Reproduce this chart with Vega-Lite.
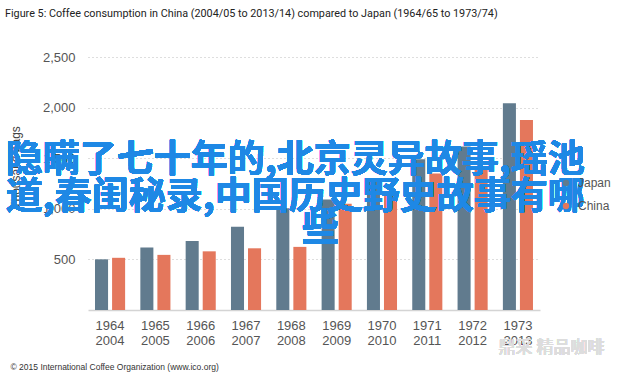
{
  "$schema": "https://vega.github.io/schema/vega-lite/v6.json",
  "width": 452,
  "height": 263,
  "autosize": {"type": "none"},
  "padding": {"left": 88, "top": 47, "right": 100, "bottom": 67},
  "background": "white",
  "config": {"view": {"stroke": null}, "font": "Liberation Sans"},
  "title": {
    "text": "Figure 5: Coffee consumption in China (2004/05 to 2013/14) compared to Japan (1964/65 to 1973/74)",
    "anchor": "start",
    "frame": "group",
    "dx": -83,
    "offset": 19,
    "baseline": "alphabetic",
    "font": "Roboto",
    "fontSize": 10.8,
    "fontWeight": "normal",
    "color": "#222222"
  },
  "data": {
    "values": [
      {"period": "1964 2004", "country": "Japan", "value": 501},
      {"period": "1964 2004", "country": "China", "value": 516},
      {"period": "1965 2005", "country": "Japan", "value": 618},
      {"period": "1965 2005", "country": "China", "value": 545},
      {"period": "1966 2006", "country": "Japan", "value": 681},
      {"period": "1966 2006", "country": "China", "value": 580},
      {"period": "1967 2007", "country": "Japan", "value": 824},
      {"period": "1967 2007", "country": "China", "value": 610},
      {"period": "1968 2008", "country": "Japan", "value": 1005},
      {"period": "1968 2008", "country": "China", "value": 624},
      {"period": "1969 2009", "country": "Japan", "value": 1093},
      {"period": "1969 2009", "country": "China", "value": 1050},
      {"period": "1970 2010", "country": "Japan", "value": 1300},
      {"period": "1970 2010", "country": "China", "value": 1150},
      {"period": "1971 2011", "country": "Japan", "value": 1490},
      {"period": "1971 2011", "country": "China", "value": 1350},
      {"period": "1972 2012", "country": "Japan", "value": 1616},
      {"period": "1972 2012", "country": "China", "value": 1400},
      {"period": "1973 2013", "country": "Japan", "value": 2044},
      {"period": "1973 2013", "country": "China", "value": 1879}
    ]
  },
  "layer": [
    {
      "mark": {"type": "bar"},
      "encoding": {
        "x": {
          "field": "period",
          "type": "nominal",
          "sort": null,
          "scale": {"paddingInner": 0.336, "paddingOuter": 0.155},
          "axis": {
            "labelAngle": 0,
            "labelExpr": "split(datum.label, ' ')",
            "labelFontSize": 13,
            "labelColor": "#555555",
            "labelLineHeight": 15,
            "labelPadding": 9,
            "ticks": false,
            "domain": true,
            "domainColor": "#d4d4d4",
            "domainWidth": 1.5,
            "title": "© 2015 International Coffee Organization (www.ico.org)",
            "titleAlign": "left",
            "titleAnchor": "start",
            "titleBaseline": "middle",
            "titleX": -78,
            "titleY": 56,
            "titleFontSize": 8.5,
            "titleFontWeight": "normal",
            "titleColor": "#333333"
          }
        },
        "xOffset": {
          "field": "country",
          "sort": ["Japan", "China"],
          "scale": {"paddingInner": 0.235, "paddingOuter": 0}
        },
        "y": {
          "field": "value",
          "type": "quantitative",
          "scale": {"domain": [0, 2500]},
          "axis": {
            "values": [500, 1000, 1500, 2000, 2500],
            "format": ",.0f",
            "grid": true,
            "gridDash": [1, 3],
            "gridColor": "#bdbdbd",
            "domain": false,
            "ticks": false,
            "labelPadding": 13,
            "labelFontSize": 13,
            "labelColor": "#555555",
            "title": "Thousand bags",
            "titleX": -73,
            "titleY": 120,
            "titleAlign": "center",
            "titleBaseline": "middle",
            "titleFontSize": 12,
            "titleFontWeight": "normal",
            "titleColor": "#444444"
          }
        },
        "color": {
          "field": "country",
          "type": "nominal",
          "scale": {"domain": ["Japan", "China"], "range": ["#617b8e", "#e4775c"]},
          "legend": {
            "title": null,
            "orient": "none",
            "legendX": 472,
            "legendY": 130,
            "symbolType": "circle",
            "symbolSize": 40,
            "labelFontSize": 12,
            "labelColor": "#555555",
            "labelOffset": 6,
            "rowPadding": 11
          }
        }
      }
    },
    {
      "mark": {"type": "text", "font": "Noto Sans CJK SC", "fontSize": 37, "fontWeight": "bold", "color": "#1e88e5", "align": "center", "baseline": "middle", "dx": 4},
      "encoding": {
        "x": {"datum": "1968 2008"},
        "y": {"datum": 1473},
        "text": {"value": "隐瞒了七十年的,北京灵异故事,瑶池"}
      }
    },
    {
      "mark": {"type": "text", "font": "Noto Sans CJK SC", "fontSize": 37, "fontWeight": "bold", "color": "#1e88e5", "align": "center", "baseline": "middle", "dx": 4},
      "encoding": {
        "x": {"datum": "1968 2008"},
        "y": {"datum": 1103},
        "text": {"value": "道,春闺秘录,中国历史野史故事有哪"}
      }
    },
    {
      "mark": {"type": "text", "font": "Noto Sans CJK SC", "fontSize": 37, "fontWeight": "bold", "color": "#1e88e5", "align": "center", "baseline": "middle", "dx": 29},
      "encoding": {
        "x": {"datum": "1968 2008"},
        "y": {"datum": 790},
        "text": {"value": "些"}
      }
    },
    {
      "mark": {"type": "text", "font": "Noto Sans CJK SC", "fontSize": 17, "color": "#dddddd", "align": "left", "baseline": "middle", "dx": 26, "dy": 38},
      "encoding": {
        "x": {"datum": "1972 2012"},
        "y": {"datum": 0},
        "text": {"value": "鼎采 精品咖啡"}
      }
    }
  ]
}
